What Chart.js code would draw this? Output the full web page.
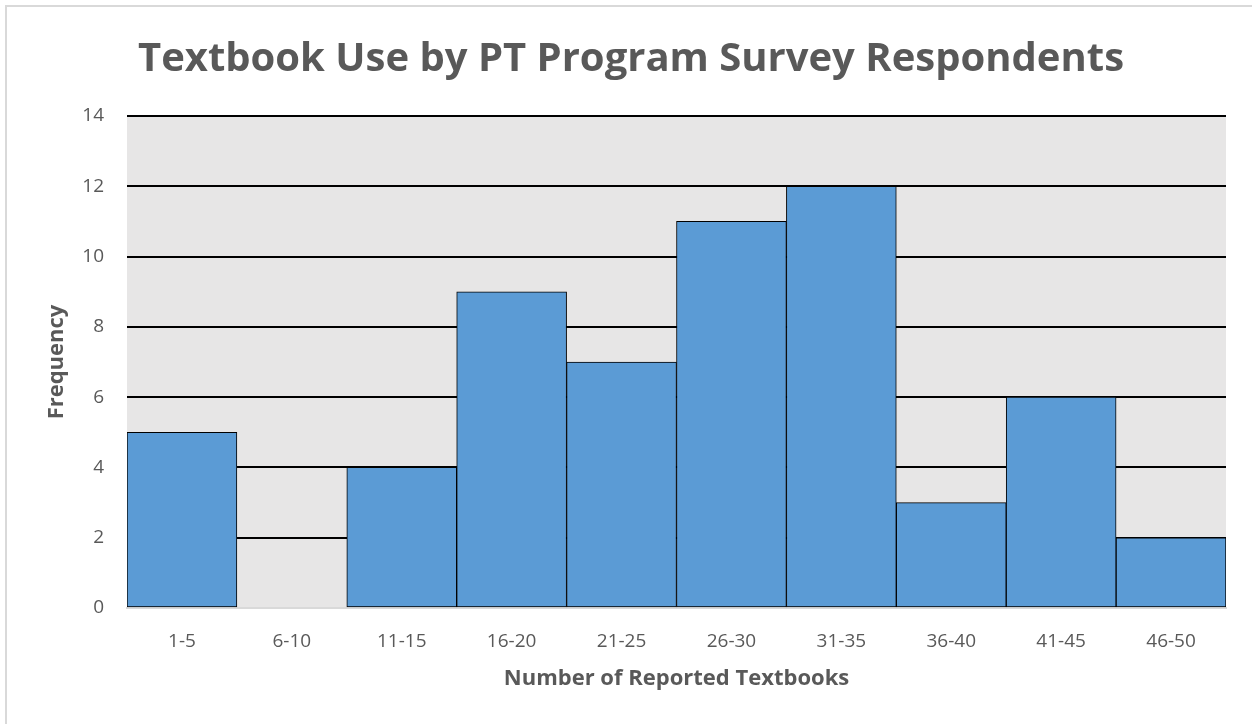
<!DOCTYPE html>
<html>
<head>
<meta charset="utf-8">
<script src="https://cdn.jsdelivr.net/npm/chart.js@4"></script>
<style>
  html, body { margin: 0; padding: 0; background: #fff; }
  #wrap { position: absolute; left: 0; top: 0; width: 1252px; height: 724px; }
  #frame { position: absolute; left: 5px; top: 5px; width: 1260px; height: 740px;
           border-top: 2px solid #d9d9d9; border-left: 2px solid #d9d9d9; box-sizing: border-box; }
</style>
</head>
<body>
<div id="wrap">
  <div id="frame"></div>
  <canvas id="histChart" width="1252" height="724"></canvas>
</div>
<script>
// bins and counts
const binLabels = ['1-5', '6-10', '11-15', '16-20', '21-25', '26-30', '31-35', '36-40', '41-45', '46-50'];
const frequencies = [5, 0, 4, 9, 7, 11, 12, 3, 6, 2];
const yMax = 14;
const yStep = 2;

const textGray = '#595959';
const fontFam = "'Open Sans', sans-serif";

// gray plot background
const plotBg = {
    id: 'plotBg',
    beforeDraw(chart) {
        const { ctx, chartArea: a } = chart;
        ctx.save();
        ctx.fillStyle = '#e7e6e6';
        ctx.fillRect(a.left, a.top, a.right - a.left, a.bottom - a.top);
        ctx.restore();
    }
};

const ctx = document.getElementById('histChart').getContext('2d');
const histChart = new Chart(ctx, {
    type: 'bar',
    data: {
        labels: binLabels,
        datasets: [{
            label: 'Frequency',
            data: frequencies,
            backgroundColor: '#5b9bd5',
            borderColor: '#000',
            borderWidth: 1,
            borderSkipped: false,
            categoryPercentage: 1,
            barPercentage: 1
        }]
    },
    options: {
        responsive: false,
        animation: false,
        devicePixelRatio: 1,
        layout: { padding: { left: 36, right: 26, top: 0, bottom: 28 } },
        plugins: {
            legend: { display: false },
            tooltip: { enabled: false },
            title: {
                display: true,
                text: 'Textbook Use by PT Program Survey Respondents',
                color: textGray,
                font: { family: fontFam, size: 40, weight: 'bold' },
                padding: { top: 36, bottom: 32 }
            }
        },
        scales: {
            x: {
                grid: { display: false },
                border: { color: '#d9d9d9', width: 2 },
                ticks: {
                    color: textGray,
                    font: { family: fontFam, size: 19 },
                    padding: 14,
                    maxRotation: 0
                },
                title: {
                    display: true,
                    text: 'Number of Reported Textbooks',
                    color: textGray,
                    font: { family: fontFam, size: 22, weight: 'bold' },
                    padding: { top: 10 }
                },
                afterFit(scale) { scale.height = 88; }
            },
            y: {
                min: 0,
                max: yMax,
                grid: {
                    color: c => c.tick && c.tick.value === 0 ? '#d9d9d9' : '#000',
                    lineWidth: 2,
                    drawTicks: false
                },
                border: { display: false },
                ticks: {
                    stepSize: yStep,
                    color: textGray,
                    font: { family: fontFam, size: 19 },
                    padding: 23
                },
                title: {
                    display: true,
                    text: 'Frequency',
                    color: textGray,
                    font: { family: fontFam, size: 22, weight: 'bold' },
                    padding: { top: 8, bottom: 0 }
                },
                afterFit(scale) { scale.width = 91; }
            }
        }
    },
    plugins: [plotBg]
});
</script>
</body>
</html>
